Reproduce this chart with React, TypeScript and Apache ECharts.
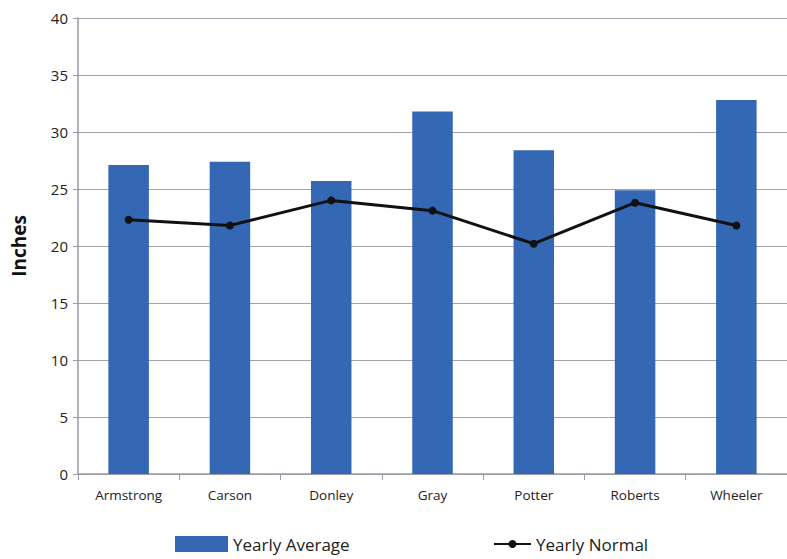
import React, { useEffect, useRef } from "react";
import * as echarts from "echarts";

const categories = ["Armstrong", "Carson", "Donley", "Gray", "Potter", "Roberts", "Wheeler"];
const yearlyAverage = [27.1, 27.4, 25.7, 31.8, 28.4, 24.9, 32.8];
const yearlyNormal = [22.3, 21.8, 24.0, 23.1, 20.2, 23.8, 21.8];
const yAxisTicks = { min: 0, max: 40, interval: 5 };

export default function App() {
  const ref = useRef<HTMLDivElement>(null);
  useEffect(() => {
    if (!ref.current) return;
    const chart = echarts.init(ref.current, null, { renderer: "svg" });
    const legendText = { fontFamily: "Open Sans", fontSize: 17, color: "#222", lineHeight: 20 };
    chart.setOption({
      animation: false,
      backgroundColor: "#ffffff",
      grid: { left: 78, right: -6, top: 18, bottom: 85, containLabel: false },
      legend: [
        {
          left: 175,
          top: 534,
          padding: 0,
          data: [{ name: "Yearly Average", icon: "rect" }],
          itemWidth: 53,
          itemHeight: 16,
          itemGap: 3,
          textStyle: legendText,
        },
        {
          left: 493,
          top: 534,
          padding: 0,
          data: [{ name: "Yearly Normal" }],
          itemWidth: 37,
          itemHeight: 10,
          textStyle: legendText,
        },
      ],
      xAxis: {
        type: "category",
        data: categories,
        boundaryGap: true,
        axisLine: { show: true, lineStyle: { color: "#9a9aa6", width: 1.5 } },
        axisTick: { show: true, length: 6, alignWithLabel: false, lineStyle: { color: "#9a9aa6" } },
        axisLabel: { fontFamily: "Open Sans", fontSize: 13.5, color: "#222", margin: 14 },
      },
      yAxis: {
        type: "value",
        min: yAxisTicks.min,
        max: yAxisTicks.max,
        interval: yAxisTicks.interval,
        name: "Inches",
        nameLocation: "middle",
        nameGap: 50,
        nameTextStyle: { fontFamily: "Open Sans", fontWeight: "bold", fontSize: 19, color: "#111" },
        axisLine: { show: true, lineStyle: { color: "#9a9aa6", width: 1.5 } },
        axisTick: { show: true, length: 5, lineStyle: { color: "#9a9aa6" } },
        axisLabel: { fontFamily: "Open Sans", fontSize: 15, color: "#222", margin: 10 },
        splitLine: { show: true, lineStyle: { color: "#a4a2ae", width: 1.2 } },
      },
      series: [
        {
          name: "Yearly Average",
          type: "bar",
          data: yearlyAverage,
          barCategoryGap: "60%",
          itemStyle: { color: "#3467b4" },
        },
        {
          name: "Yearly Normal",
          type: "line",
          data: yearlyNormal,
          symbol: "circle",
          symbolSize: 8,
          lineStyle: { color: "#111", width: 3 },
          itemStyle: { color: "#111" },
        },
      ],
    });
    return () => chart.dispose();
  }, []);
  return <div ref={ref} style={{ width: 787, height: 559, position: "absolute", left: 0, top: 0 }} />;
}
